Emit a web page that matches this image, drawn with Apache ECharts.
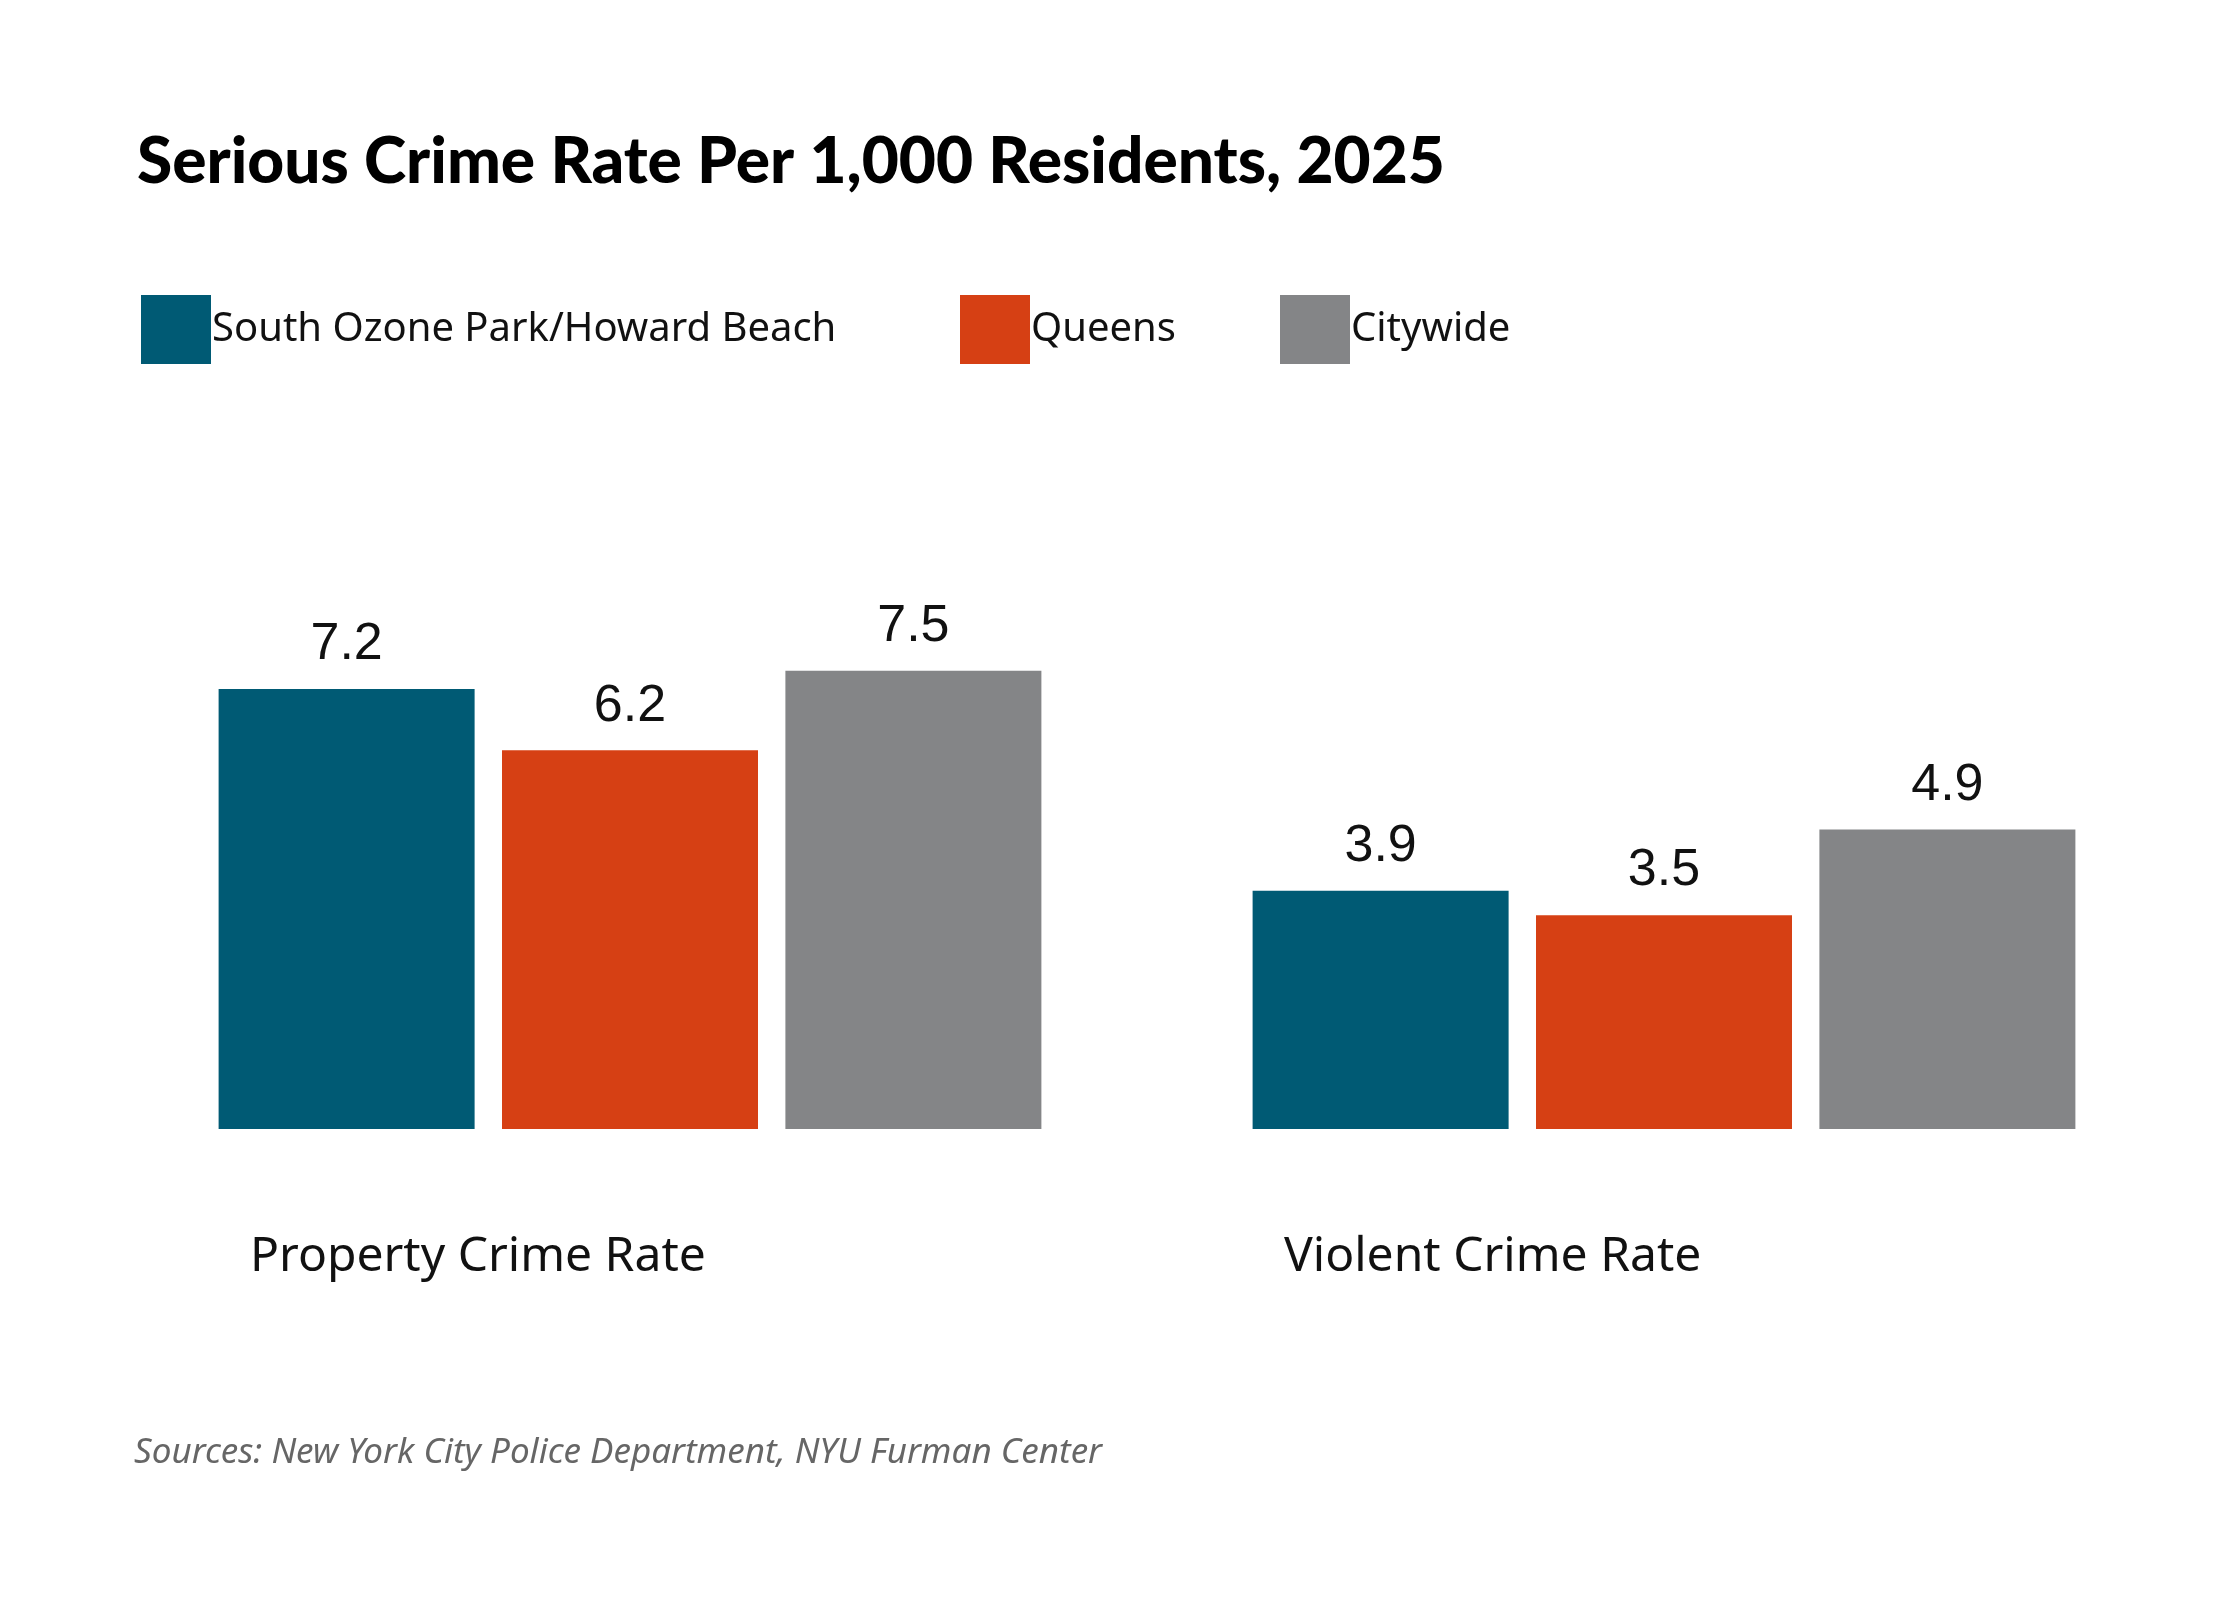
<!DOCTYPE html>
<html>
<head>
<meta charset="utf-8">
<script src="https://cdn.jsdelivr.net/npm/echarts@6/dist/echarts.min.js"></script>
<style>
  html, body { margin: 0; padding: 0; background: #fff; }
  #chart { width: 2240px; height: 1600px; }
</style>
</head>
<body>
<div id="chart"></div>
<script>
var categories = ['Property Crime Rate', 'Violent Crime Rate'];
var seriesNames = ['South Ozone Park/Howard Beach', 'Queens', 'Citywide'];
var seriesColors = ['#005a74', '#d64014', '#848587'];
var southOzone = [7.2, 3.9];
var queens = [6.2, 3.5];
var citywide = [7.5, 4.9];
var values = [southOzone, queens, citywide];
var legendLeft = [136, 955, 1275];

var chart = echarts.init(document.getElementById('chart'));

var series = seriesNames.map(function (name, i) {
    return {
        name: name,
        type: 'bar',
        data: values[i],
        barWidth: 256,
        barGap: '10.7%',
        itemStyle: { color: seriesColors[i] },
        label: {
            show: true,
            position: 'top',
            distance: 18,
            fontFamily: 'Liberation Sans',
            fontSize: 52,
            color: '#111'
        }
    };
});

var legends = seriesNames.map(function (name, i) {
    return {
        data: [name],
        left: legendLeft[i],
        top: 290,
        icon: 'rect',
        itemWidth: 70,
        itemHeight: 69,
        itemGap: 0,
        textStyle: { fontFamily: 'Noto Sans', fontSize: 40, color: '#111', padding: [0, 0, 0, -4] }
    };
});

chart.setOption({
    backgroundColor: '#fff',
    animation: false,
    title: {
        text: 'Serious Crime Rate Per 1,000 Residents, 2025',
        left: 132,
        top: 125,
        textStyle: { fontFamily: 'Lato', fontWeight: 900, fontSize: 64, color: '#000' }
    },
    legend: legends,
    grid: { left: 113, right: 59, top: 518, bottom: 471 },
    xAxis: {
        type: 'category',
        data: categories,
        axisLine: { show: false },
        axisTick: { show: false },
        axisLabel: { show: false }
    },
    yAxis: {
        type: 'value',
        min: 0,
        max: 10,
        show: false
    },
    series: series
});

// category labels sit left of group centre, as in the original layout
var graphics = categories.map(function (c, i) {
    var p = chart.convertToPixel({ xAxisIndex: 0, yAxisIndex: 0 }, [i, 0]);
    return {
        type: 'text',
        left: p[0] - 380,
        top: p[1] + 104,
        style: { text: c, fontFamily: 'Noto Sans', fontSize: 48, fill: '#111' }
    };
});
graphics.push({
    type: 'text',
    left: 134,
    top: 1436,
    style: {
        text: 'Sources: New York City Police Department, NYU Furman Center',
        fontFamily: 'Noto Sans', fontStyle: 'italic', fontSize: 35, fill: '#666'
    }
});
chart.setOption({ graphic: graphics });
</script>
</body>
</html>
